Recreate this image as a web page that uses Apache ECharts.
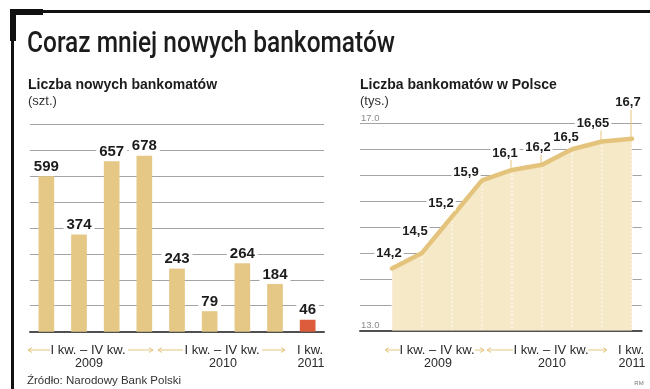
<!DOCTYPE html>
<html>
<head>
<meta charset="utf-8">
<script src="https://cdn.jsdelivr.net/npm/echarts@6/dist/echarts.min.js"></script>
<style>
html,body{margin:0;padding:0;background:#fff;}
#c{width:650px;height:389px;}
</style>
</head>
<body>
<div id="c"></div>
<script>
// ---- data ----
const categories = ['I kw. 2009','II kw. 2009','III kw. 2009','IV kw. 2009','I kw. 2010','II kw. 2010','III kw. 2010','IV kw. 2010','I kw. 2011'];
const newAtms = [599, 374, 657, 678, 243, 79, 264, 184, 46];
const totalAtms = [14.2, 14.5, 15.2, 15.9, 16.1, 16.2, 16.5, 16.65, 16.7];
const leftAxis = { min: 0, max: 800, step: 100 };
const rightAxis = { min: 13, max: 17, step: 0.5 };
const rightTickLabels = [13, 17];
const periodTop = ['I kw. – IV kw.', 'I kw. – IV kw.', 'I kw.'];
const periodBottom = ['2009', '2010', '2011'];

// ---- style config ----
const TAN = '#E5C885', RED = '#DC5C3B', FILL = '#F6E9C8', LINE = '#E4C47C', GRID = '#a3a3a3', AXIS = '#505050', INK = '#1c1c1c';
const FONT = '"Liberation Sans", Arial, sans-serif';
const TITLE_FONT = '500 30px Roboto, "Liberation Sans", sans-serif';
const TITLE_TEXT = 'Coraz mniej nowych bankomatów';
const TITLE_WIDTH = 368;
const labelOffsets = [[-3,-15],[-7,-22],[-11,-13],[-16,-8],[-7,-17],[-4,-17],[-6,-12],[-9,-18],[-4,-36]];
const leaderFlags = [0,0,0,0,1,1,0,1,1];

const chart = echarts.init(document.getElementById('c'), null, {renderer: 'canvas'});

// condense title to fit its width
const mctx = document.createElement('canvas').getContext('2d');
mctx.font = TITLE_FONT;
const titleScale = TITLE_WIDTH / mctx.measureText(TITLE_TEXT).width;

function arrow(x1, x2, y, dir) {
  const hx = dir < 0 ? x1 : x2;
  return [
    {type:'line', shape:{x1:x1, y1:y, x2:x2, y2:y}, style:{stroke:LINE, lineWidth:1}},
    {type:'polyline', shape:{points:[[hx - dir*4, y-2.5],[hx, y],[hx - dir*4, y+2.5]]}, style:{stroke:LINE, lineWidth:1, fill:null}}
  ];
}
function txt(x, y, text, font, fill, align) {
  return {type:'text', x:x, y:y, style:{text:text, font:font, fill:fill, align:align||'left', verticalAlign:'middle'}};
}

const leftPeriodX = [88, 222, 310];
const rightPeriodX = [437, 551, 631];
const g = [];
// frame
g.push({type:'rect', shape:{x:10, y:10, width:640, height:3}, style:{fill:'#111'}});
g.push({type:'rect', shape:{x:10, y:9, width:33, height:6}, style:{fill:'#111'}});
g.push({type:'rect', shape:{x:10, y:9, width:6, height:32}, style:{fill:'#111'}});
g.push({type:'rect', shape:{x:11, y:9, width:3, height:380}, style:{fill:'#111'}});
// titles
const t = txt(27, 44, TITLE_TEXT, TITLE_FONT, INK);
t.scaleX = titleScale;
g.push(t);
g.push(txt(28, 85, 'Liczba nowych bankomatów', 'bold 14px ' + FONT, INK));
g.push(txt(28, 101, '(szt.)', '13px ' + FONT, '#333'));
g.push(txt(360, 85, 'Liczba bankomatów w Polsce', 'bold 14px ' + FONT, INK));
g.push(txt(360, 101, '(tys.)', '13px ' + FONT, '#333'));
// period labels
for (let k = 0; k < 3; k++) {
  g.push(txt(leftPeriodX[k], 350, periodTop[k], '13px ' + FONT, '#2a2a2a', 'center'));
  g.push(txt(leftPeriodX[k] + 1, 364, periodBottom[k], '12.5px ' + FONT, '#2a2a2a', 'center'));
  g.push(txt(rightPeriodX[k], 350, periodTop[k], '13px ' + FONT, '#2a2a2a', 'center'));
  g.push(txt(rightPeriodX[k] + 1, 364, periodBottom[k], '12.5px ' + FONT, '#2a2a2a', 'center'));
}
[[28,50,-1],[128,153,1],[158,183,-1],[262,285,1],[385,400,-1],[475,484,1],[487,513,-1],[588,607,1]].forEach(a => {
  arrow(a[0], a[1], 350, a[2]).forEach(e => g.push(e));
});
g.push(txt(27, 381, 'Źródło: Narodowy Bank Polski', '11.5px ' + FONT, '#333'));
g.push(txt(639, 383, 'RM', '6px ' + FONT, '#777', 'center'));

const fmt = v => String(v).replace('.', ',');

const option = {
  animation: false,
  backgroundColor: '#fff',
  grid: [
    {left: 30, top: 124, width: 294, height: 207.7},
    {left: 360, top: 123.3, width: 281.7, height: 207.4},
    {left: 392, top: 123.3, width: 240, height: 207.4}
  ],
  xAxis: [
    {gridIndex: 0, type: 'category', data: categories, boundaryGap: true,
     axisLine: {lineStyle: {color: AXIS, width: 2}}, axisTick: {show: false}, axisLabel: {show: false}},
    {gridIndex: 1, type: 'value', min: 0, max: 1, splitLine: {show: false},
     axisLine: {show: true, onZero: false, lineStyle: {color: AXIS, width: 2}}, axisTick: {show: false}, axisLabel: {show: false}},
    {gridIndex: 2, type: 'category', data: categories, boundaryGap: false, show: false}
  ],
  yAxis: [
    {gridIndex: 0, type: 'value', min: leftAxis.min, max: leftAxis.max, interval: leftAxis.step,
     axisLine: {show: false}, axisTick: {show: false}, axisLabel: {show: false},
     splitLine: {lineStyle: {color: GRID, width: 1}}},
    {gridIndex: 1, type: 'value', min: rightAxis.min, max: rightAxis.max, interval: rightAxis.step,
     axisLine: {show: false}, axisTick: {show: false},
     axisLabel: {inside: true, margin: 1, verticalAlign: 'bottom', color: '#8a8a8a', fontSize: 9.5, fontFamily: FONT,
       formatter: v => rightTickLabels.indexOf(v) >= 0 ? v.toFixed(1) : ''},
     splitLine: {lineStyle: {color: GRID, width: 1}}},
    {gridIndex: 2, type: 'value', min: rightAxis.min, max: rightAxis.max, show: false, splitLine: {show: false}}
  ],
  series: [
    {type: 'bar', xAxisIndex: 0, yAxisIndex: 0, data: newAtms, barWidth: '48%',
     itemStyle: {color: p => p.dataIndex === newAtms.length - 1 ? RED : TAN},
     label: {show: true, position: 'top', distance: 2, color: INK, fontSize: 15, fontWeight: 'bold', fontFamily: FONT,
       backgroundColor: '#fff', padding: [1, 3, 0, 3]}, z: 3},
    {type: 'line', xAxisIndex: 2, yAxisIndex: 2, data: totalAtms, symbol: 'none',
     lineStyle: {width: 0}, areaStyle: {color: FILL, opacity: 1}, z: 1},
    {type: 'custom', xAxisIndex: 2, yAxisIndex: 2, z: 2, silent: true,
     data: totalAtms.map((v, i) => [i, v]),
     renderItem: (params, api) => {
       const p = api.coord([api.value(0), api.value(1)]);
       const b = api.coord([api.value(0), rightAxis.min]);
       return {type: 'line', shape: {x1: p[0], y1: p[1], x2: b[0], y2: b[1] - 1},
               style: {stroke: '#fff', lineWidth: 1, lineDash: [2, 2]}};
     }},
    {type: 'line', xAxisIndex: 2, yAxisIndex: 2, data: totalAtms, symbol: 'none',
     lineStyle: {width: 4.5, color: LINE, join: 'round', cap: 'round'}, z: 3},
    {type: 'custom', xAxisIndex: 2, yAxisIndex: 2, z: 4, silent: true,
     data: totalAtms.map((v, i) => [i, v]),
     renderItem: (params, api) => {
       const i = params.dataIndex;
       const p = api.coord([api.value(0), api.value(1)]);
       const off = labelOffsets[i];
       const children = [];
       if (leaderFlags[i]) {
         children.push({type: 'line', shape: {x1: p[0] - 1, y1: p[1], x2: p[0] - 1, y2: p[1] + off[1] + 6},
           style: {stroke: LINE, lineWidth: 1}});
       }
       children.push({type: 'text', x: p[0] + off[0], y: p[1] + off[1],
         style: {text: fmt(totalAtms[i]), font: 'bold 13px ' + FONT, fill: INK, align: 'center', verticalAlign: 'middle',
           backgroundColor: '#fff', padding: [1, 2, 0, 2]}});
       return {type: 'group', children: children};
     }}
  ],
  graphic: {elements: g}
};
chart.setOption(option);
</script>
</body>
</html>
